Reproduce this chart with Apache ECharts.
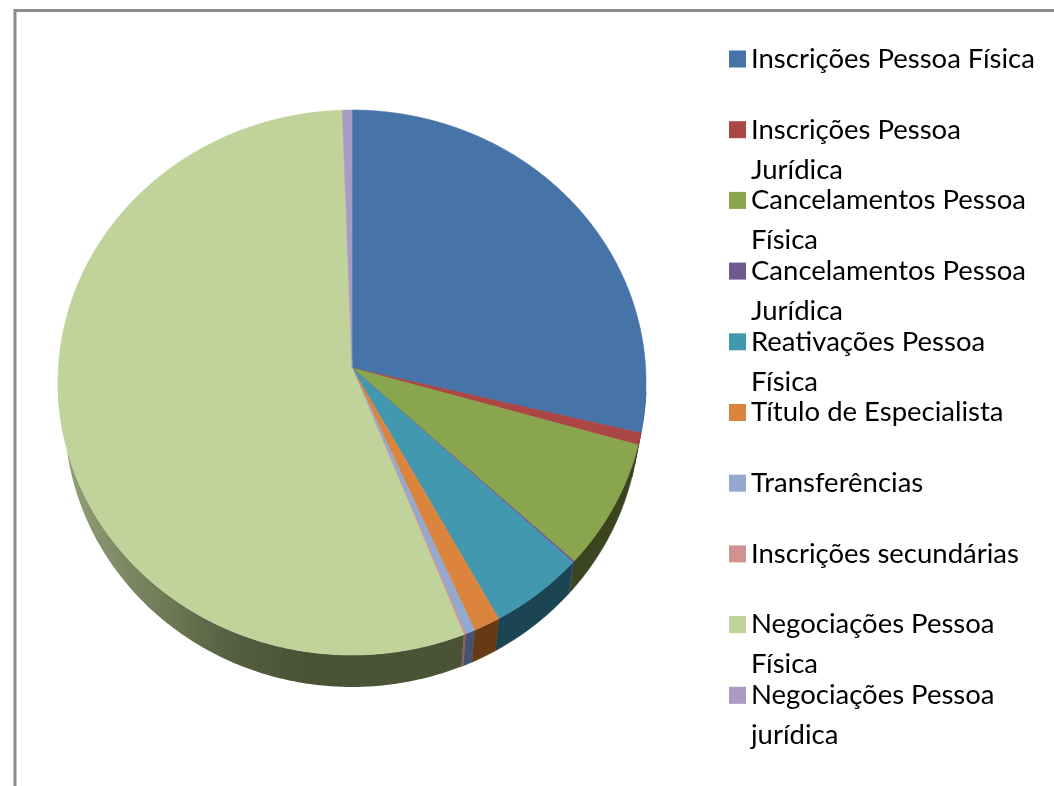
<!DOCTYPE html>
<html><head><meta charset="utf-8">
<style>html,body{margin:0;padding:0;background:#fff}#c{width:1054px;height:786px}</style>
<script src="https://cdn.jsdelivr.net/npm/echarts@6/dist/echarts.min.js"></script>
</head><body><div id="c"></div>
<script>
const categories = ['Inscrições Pessoa Física','Inscrições Pessoa Jurídica','Cancelamentos Pessoa Física','Cancelamentos Pessoa Jurídica','Reativações Pessoa Física','Título de Especialista','Transferências','Inscrições secundárias','Negociações Pessoa Física','Negociações Pessoa jurídica'];
const legendLines = ['Inscrições Pessoa Física\n ','Inscrições Pessoa\nJurídica','Cancelamentos Pessoa\nFísica','Cancelamentos Pessoa\nJurídica','Reativações Pessoa\nFísica','Título de Especialista\n ','Transferências\n ','Inscrições secundárias\n ','Negociações Pessoa\nFísica','Negociações Pessoa\njurídica'];
const shares = [28.8,0.7,7.5,0.1,5.0,1.4,0.5,0.1,55.35,0.55];
const faceColors = ['#4674a9','#aa4644','#89a54e','#71588f','#4298af','#db843d','#93a9cf','#d19392','#bfd39b','#a99bc3'];
const wallColors = ['#203a58','#5a2422','#3a4520','#4a3a70','#1b4552','#673a14','#46536e','#8a5a6a','#4d5639','#5a5070'];

// perspective disc: apex is the projected centre of the pie
const AX=352, AY=368, KX=293.6, KY=271.7, P=-0.0532, DEPTH=32, SHRINK=0.978;
function rim(t){const x=Math.sin(t),y=-Math.cos(t),d=1+P*y;return [AX+KX*x/d,AY+KY*y/d];}
function low(t){const p=rim(t);return [AX+(p[0]-AX)*SHRINK,p[1]+DEPTH];}
function arc(a,b,fn){const n=Math.max(2,Math.ceil((b-a)/0.01));const o=[];for(let i=0;i<=n;i++)o.push(fn(a+(b-a)*i/n));return o;}
const TAU=Math.PI*2;
let acc=0;
const spans=shares.map(v=>{const s=[acc,acc+v];acc+=v;return s;});
const total=acc;
const toAngle=v=>v/total*TAU;

const faceSeries=categories.map((name,i)=>({
  type:'custom',name,coordinateSystem:'none',z:3,silent:true,animation:false,clip:false,
  itemStyle:{color:faceColors[i]},
  data:[spans[i]],
  renderItem(params,api){
    const a=toAngle(api.value(0)),b=toAngle(api.value(1));
    return {type:'polygon',shape:{points:[[AX,AY]].concat(arc(a,b,rim))},
      style:{fill:faceColors[i],stroke:faceColors[i],lineWidth:0.6}};
  }
}));
const wallSeries={
  type:'custom',name:'parede',coordinateSystem:'none',z:2,silent:true,animation:false,clip:false,
  data:spans,
  renderItem(params,api){
    const lo=95/180*Math.PI,hi=268/180*Math.PI;
    const a=Math.max(lo,toAngle(api.value(0))),b=Math.min(hi,toAngle(api.value(1)));
    if(b<=a)return null;
    const top=arc(a,b,rim),bot=arc(a,b,low).reverse();
    const i=params.dataIndex;
    const fill=i===8?new echarts.graphic.LinearGradient(60,0,300,0,[{offset:0,color:'#94a278'},{offset:0.75,color:'#535c3e'},{offset:1,color:'#4b5337'}],true):wallColors[i];
    return {type:'polygon',shape:{points:top.concat(bot)},style:{fill,stroke:i===8?null:wallColors[i],lineWidth:0.6}};
  }
};
const chart=echarts.init(document.getElementById('c'),null,{renderer:'canvas'});
chart.setOption({
  backgroundColor:'#fff',animation:false,
  graphic:[{type:'rect',z:0,silent:true,shape:{x:15,y:10.5,width:1200,height:1000},style:{fill:null,stroke:'#8c8c8c',lineWidth:3}}],
  legend:{
    data:categories,orient:'vertical',left:729,top:-1,padding:0,
    itemWidth:17,itemHeight:17,itemGap:-49.3,icon:'rect',selectedMode:false,
    formatter:n=>' \n'+legendLines[categories.indexOf(n)],
    textStyle:{fontFamily:'Lato',fontSize:27.5,color:'#000',lineHeight:40}
  },
  series:[wallSeries].concat(faceSeries)
});
</script></body></html>
